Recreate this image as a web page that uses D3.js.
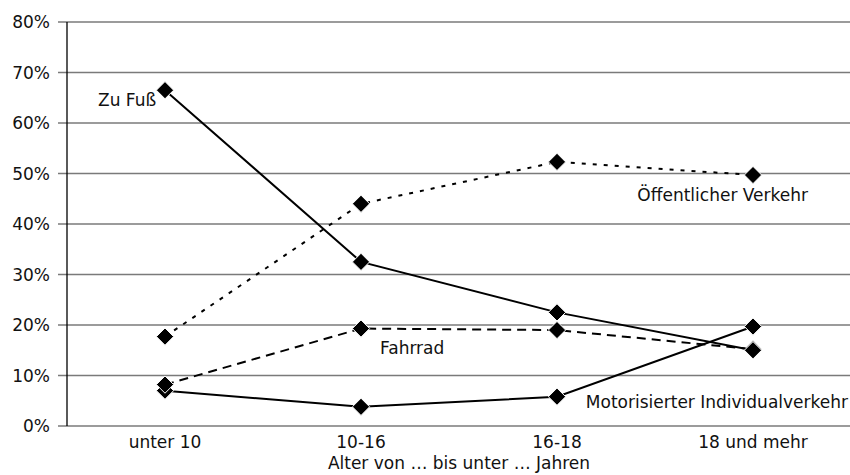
<!DOCTYPE html>
<html lang="de">
<head>
<meta charset="UTF-8">
<title>Verkehrsmittelwahl nach Alter</title>
<script src="https://cdn.jsdelivr.net/npm/d3@7"></script>
<style>
    body { margin: 0; background: #fff; }
    text { font-family: "DejaVu Sans", sans-serif; font-size: 17px; fill: #111; }
</style>
</head>
<body>
<svg id="chart" width="850" height="475"></svg>
<script>
    var categories = ["unter 10", "10-16", "16-18", "18 und mehr"];
    var yTicks = [0, 10, 20, 30, 40, 50, 60, 70, 80];
    var zuFuss = [66.5, 32.5, 22.5, 15.0];
    var oeffentlich = [17.7, 44.0, 52.3, 49.7];
    var fahrrad = [8.2, 19.3, 19.0, 15.2];
    var motorisiert = [7.0, 3.8, 5.8, 19.7];

    var series = [
        { name: "Motorisierter Individualverkehr", values: motorisiert, dash: null },
        { name: "Fahrrad", values: fahrrad, dash: "9,6" },
        { name: "Öffentlicher Verkehr", values: oeffentlich, dash: "4,7" },
        { name: "Zu Fuß", values: zuFuss, dash: null }
    ];

    var svg = d3.select("#chart");
    var plotL = 67, plotR = 851, plotT = 22, plotB = 426;

    var x = d3.scalePoint().domain(categories).range([plotL, plotR]).padding(0.5);
    var y = d3.scaleLinear().domain([0, 80]).range([plotB, plotT]);

    // gitterlinien
    svg.append("g").selectAll("line")
        .data(yTicks)
        .enter().append("line")
        .attr("x1", plotL - 9).attr("x2", plotR)
        .attr("y1", d => y(d)).attr("y2", d => y(d))
        .attr("stroke", "#7a7a7a").attr("stroke-width", 1.3);

    svg.append("g").selectAll("text")
        .data(yTicks)
        .enter().append("text")
        .attr("x", 50).attr("y", d => y(d) + 6)
        .attr("text-anchor", "end")
        .text(d => d + "%");

    svg.append("line")
        .attr("x1", plotL).attr("x2", plotL)
        .attr("y1", plotT).attr("y2", plotB)
        .attr("stroke", "#000").attr("stroke-width", 1.3);

    svg.append("g").selectAll("text")
        .data(categories)
        .enter().append("text")
        .attr("x", d => x(d)).attr("y", 448)
        .attr("text-anchor", "middle")
        .text(d => d);

    svg.append("text")
        .attr("x", x(categories[1]) + x.step() / 2).attr("y", 469)
        .attr("text-anchor", "middle")
        .text("Alter von … bis unter … Jahren");

    var line = d3.line()
        .x((d, i) => x(categories[i]))
        .y(d => y(d));

    var diamond = d3.symbol().type(d3.symbolDiamond2).size(190);

    series.forEach(function (s) {
        var g = svg.append("g");
        g.append("path")
            .attr("d", line(s.values))
            .attr("fill", "none")
            .attr("stroke", "#000")
            .attr("stroke-width", 2)
            .attr("stroke-dasharray", s.dash);
        g.selectAll("path.m")
            .data(s.values)
            .enter().append("path")
            .attr("class", "m")
            .attr("d", diamond)
            .attr("transform", (d, i) => "translate(" + x(categories[i]) + "," + y(d) + ")")
            .attr("fill", "#000")
            .attr("stroke", "#fff")
            .attr("stroke-width", 1);
    });

    // beschriftungen
    var labels = [
        { t: "Zu Fuß", x: 98, y: 106, a: "start" },
        { t: "Öffentlicher Verkehr", x: 808, y: 201, a: "end" },
        { t: "Fahrrad", x: 380, y: 354, a: "start" },
        { t: "Motorisierter Individualverkehr", x: 848, y: 408, a: "end" }
    ];
    svg.append("g").selectAll("text")
        .data(labels)
        .enter().append("text")
        .attr("x", d => d.x).attr("y", d => d.y)
        .attr("text-anchor", d => d.a)
        .text(d => d.t);
</script>
</body>
</html>
